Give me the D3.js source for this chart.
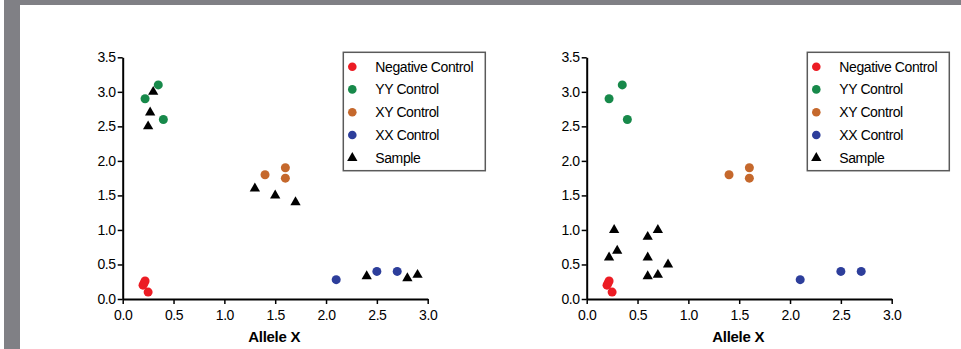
<!DOCTYPE html>
<html>
<head>
	<meta charset="utf-8" />
	<script src="https://cdnjs.cloudflare.com/ajax/libs/d3/7.8.5/d3.min.js"></script>
	<style>
		body { margin: 0; background: #fff; }
		text { font-family: 'Liberation Sans', Arial, sans-serif; }
		.tick text { font-size: 14px; letter-spacing: -0.4px; fill: #000; }
		.legend text { font-size: 14px; letter-spacing: -0.4px; }
		.xlabel { font-size: 15px; font-weight: bold; letter-spacing: -0.3px; }
	</style>
</head>
<body>
	<script>
		// series names and colours
		const seriesNames = ["Negative Control", "YY Control", "XY Control", "XX Control", "Sample"];
		const seriesColors = ["#ec1c24", "#17894a", "#c5682c", "#2d3e9b", "#000000"];

		// [allele X, allele Y] pairs
		const negControl = [[0.2, 0.2], [0.21, 0.23], [0.22, 0.26], [0.25, 0.1]];
		const yyControl = [[0.22, 2.9], [0.35, 3.1], [0.4, 2.6]];
		const xyControl = [[1.4, 1.8], [1.6, 1.9], [1.6, 1.75]];
		const xxControl = [[2.1, 0.28], [2.5, 0.4], [2.7, 0.4]];

		const samplesLeft = [[0.3, 3.0], [0.27, 2.7], [0.25, 2.5], [1.3, 1.6], [1.5, 1.5], [1.7, 1.4],
			[2.4, 0.33], [2.8, 0.3], [2.9, 0.35]];
		const samplesRight = [[0.27, 1.0], [0.22, 0.6], [0.3, 0.7], [0.6, 0.9], [0.7, 1.0], [0.6, 0.6],
			[0.8, 0.5], [0.6, 0.33], [0.7, 0.35]];

		const xTicks = [0, 0.5, 1.0, 1.5, 2.0, 2.5, 3.0];
		const yTicks = [0, 0.5, 1.0, 1.5, 2.0, 2.5, 3.0, 3.5];

		const w = 961, h = 349;
		const plotW = 305, plotTop = 57.3, plotBottom = 299;

		const svg = d3.select("body").append("svg")
			.attr("width", w)
			.attr("height", h);

		// gray frame on top and left
		svg.append("rect").attr("x", 4).attr("y", 0).attr("width", w - 4).attr("height", 5).attr("fill", "#808085");
		svg.append("rect").attr("x", 4).attr("y", 0).attr("width", 16).attr("height", h).attr("fill", "#808085");

		function drawPanel(x0, samples) {
			const g = svg.append("g").attr("transform", "translate(" + x0 + ",0)");

			const xScale = d3.scaleLinear().domain([0, 3]).range([0, plotW]);
			const yScale = d3.scaleLinear().domain([0, 3.5]).range([plotBottom, plotTop]);

			const controls = [negControl, yyControl, xyControl, xxControl];
			controls.forEach((pts, i) => {
				g.selectAll(null)
					.data(pts)
					.enter()
					.append("circle")
					.attr("cx", d => xScale(d[0]))
					.attr("cy", d => yScale(d[1]))
					.attr("r", 4.5)
					.attr("fill", seriesColors[i]);
			});

			const tri = d3.symbol().type(d3.symbolTriangle).size(46);
			g.selectAll(null)
				.data(samples)
				.enter()
				.append("path")
				.attr("d", tri)
				.attr("transform", d => "translate(" + xScale(d[0]) + "," + yScale(d[1]) + ")")
				.attr("fill", "#000");

			// axes
			const xAxis = d3.axisBottom(xScale).tickValues(xTicks).tickFormat(d3.format(".1f"))
				.tickSize(5).tickSizeOuter(0).tickPadding(6);
			const yAxis = d3.axisLeft(yScale).tickValues(yTicks).tickFormat(d3.format(".1f"))
				.tickSize(5).tickSizeOuter(0).tickPadding(2);

			const gx = g.append("g").attr("transform", "translate(0," + plotBottom + ")").call(xAxis);
			const gy = g.append("g").call(yAxis);
			[gx, gy].forEach(a => {
				a.select(".domain").attr("stroke-width", 2);
				a.selectAll(".tick line").attr("stroke-width", 1.5);
				a.selectAll(".tick text").attr("font-size", null).attr("font-family", null);
			});

			g.append("text")
				.attr("class", "xlabel")
				.attr("x", plotW / 2 - 1)
				.attr("y", 341.5)
				.attr("text-anchor", "middle")
				.text("Allele X");

			// legend
			const lg = g.append("g").attr("class", "legend").attr("transform", "translate(220.6,52.3)");
			lg.append("rect")
				.attr("width", 142)
				.attr("height", 118.4)
				.attr("fill", "#fff")
				.attr("stroke", "#5a5a5a")
				.attr("stroke-width", 1.5);
			const rowY = [14.4, 37.1, 60, 82.7, 105.7];
			seriesNames.forEach((name, i) => {
				if (i < 4) {
					lg.append("circle").attr("cx", 9).attr("cy", rowY[i]).attr("r", 4.3).attr("fill", seriesColors[i]);
				} else {
					lg.append("path").attr("d", tri).attr("transform", "translate(9," + rowY[i] + ")").attr("fill", "#000");
				}
				lg.append("text").attr("x", 32).attr("y", rowY[i] + 5).text(name);
			});
		}

		drawPanel(122.7, samplesLeft);
		drawPanel(586.7, samplesRight);
	</script>
</body>
</html>
